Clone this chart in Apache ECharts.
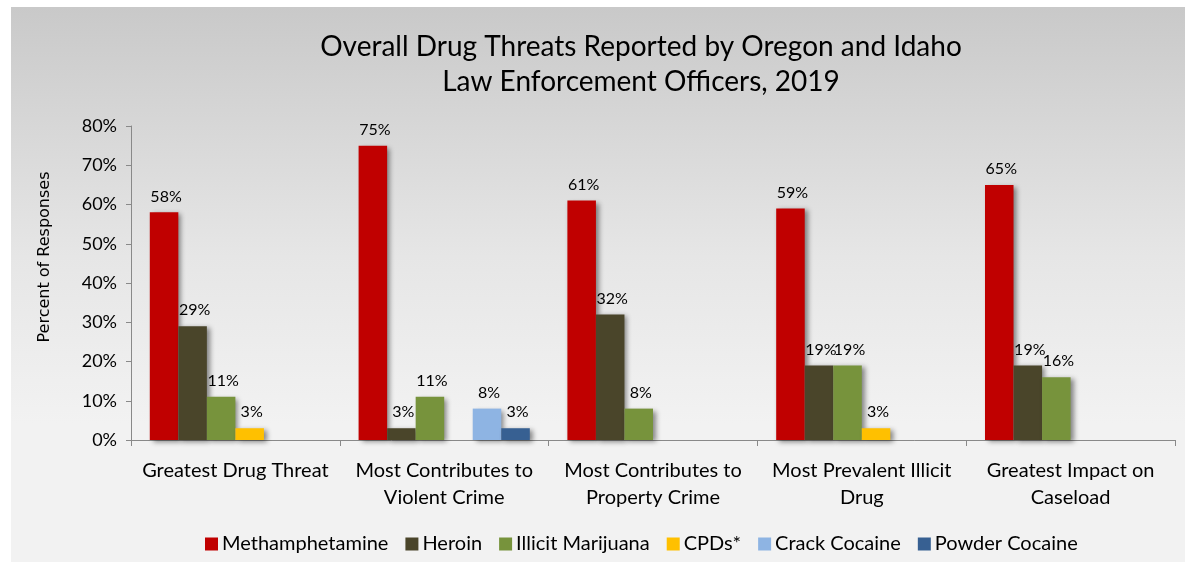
<!DOCTYPE html>
<html>
<head>
<meta charset="utf-8">
<script src="https://cdn.jsdelivr.net/npm/echarts@6/dist/echarts.min.js"></script>
<style>
  html, body { margin: 0; padding: 0; background: #ffffff; }
  #wrap { position: relative; width: 1185px; height: 562px; overflow: hidden; }
  #bg { position: absolute; left: 11px; top: 7px; right: 0; bottom: 0;
        background: linear-gradient(to bottom, #c9c9c9 0%, #e6e6e6 45%, #f2f2f2 75%, #f2f2f2 100%); }
  #chart { position: absolute; left: 0; top: 0; width: 1185px; height: 562px; }
</style>
</head>
<body>
<div id="wrap">
  <div id="bg"></div>
  <div id="chart"></div>
</div>
<script>
// Survey categories (x axis)
const categories = [
  'Greatest Drug Threat',
  'Most Contributes to\nViolent Crime',
  'Most Contributes to\nProperty Crime',
  'Most Prevalent Illicit\nDrug',
  'Greatest Impact on\nCaseload'
];

// Percent of responses per drug, in category order (null = not reported)
const methamphetamine = [58, 75, 61, 59, 65];
const heroin          = [29, 3, 32, 19, 19];
const marijuana       = [11, 11, 8, 19, 16];
const cpds            = [3, null, null, 3, null];
const crackCocaine    = [null, 8, null, null, null];
const powderCocaine   = [null, 3, null, null, null];

const yTicks = { min: 0, max: 80, interval: 10 };

const FONT = 'Lato, "Open Sans", sans-serif';

const seriesDefs = [
  { name: 'Methamphetamine',   data: methamphetamine, color: '#C00000' },
  { name: 'Heroin',            data: heroin,          color: '#4A452A' },
  { name: 'Illicit Marijuana', data: marijuana,       color: '#77933C' },
  { name: 'CPDs*',             data: cpds,            color: '#FFC000' },
  { name: 'Crack Cocaine',     data: crackCocaine,    color: '#8EB4E3' },
  { name: 'Powder Cocaine',    data: powderCocaine,   color: '#376092' }
];

const chart = echarts.init(document.getElementById('chart'), null, { renderer: 'canvas' });

chart.setOption({
  backgroundColor: 'transparent',
  animation: false,
  textStyle: { fontFamily: FONT, color: '#000' },
  title: {
    text: 'Overall Drug Threats Reported by Oregon and Idaho\nLaw Enforcement Officers, 2019',
    left: 636,
    top: 24,
    textAlign: 'center',
    textStyle: { fontFamily: FONT, fontSize: 28, fontWeight: 'normal', color: '#000', lineHeight: 35 }
  },
  legend: {
    bottom: 3,
    left: 200,
    itemWidth: 13,
    itemHeight: 13,
    itemGap: 17,
    icon: 'rect',
    textStyle: { fontFamily: FONT, fontSize: 20, color: '#000', padding: [0, 0, 0, -1] },
    data: seriesDefs.map(s => s.name)
  },
  grid: { left: 131, right: 10, top: 126, bottom: 122 },
  xAxis: {
    type: 'category',
    data: categories,
    axisLine: { lineStyle: { color: '#898989', width: 1 } },
    axisTick: { show: true, length: 6, alignWithLabel: false, lineStyle: { color: '#898989' } },
    axisLabel: { fontFamily: FONT, fontSize: 20, color: '#000', margin: 17, lineHeight: 27, interval: 0 }
  },
  yAxis: {
    type: 'value',
    min: yTicks.min,
    max: yTicks.max,
    interval: yTicks.interval,
    name: 'Percent of Responses',
    nameLocation: 'middle',
    nameGap: 78,
    nameTextStyle: { fontFamily: '"DejaVu Sans", sans-serif', fontSize: 16, color: '#000', padding: [0, 0, 0, 52] },
    axisLine: { show: true, lineStyle: { color: '#898989', width: 1 } },
    axisTick: { show: true, length: 5, inside: false, lineStyle: { color: '#898989' } },
    splitLine: { show: false },
    axisLabel: { fontFamily: FONT, fontSize: 18, color: '#000', margin: 14, formatter: '{value}%' }
  },
  series: seriesDefs.map(s => ({
    name: s.name,
    type: 'bar',
    data: s.data,
    barGap: '0%',
    barCategoryGap: '18%',
    itemStyle: {
      color: s.color,
      shadowColor: 'rgba(0,0,0,0.45)',
      shadowBlur: 5,
      shadowOffsetX: 3,
      shadowOffsetY: 2
    },
    label: {
      show: true,
      position: 'top',
      distance: 8,
      formatter: '{c}%',
      fontFamily: FONT,
      fontSize: 16,
      color: '#000',
      offset: [2, 0]
    }
  }))
});
</script>
</body>
</html>
